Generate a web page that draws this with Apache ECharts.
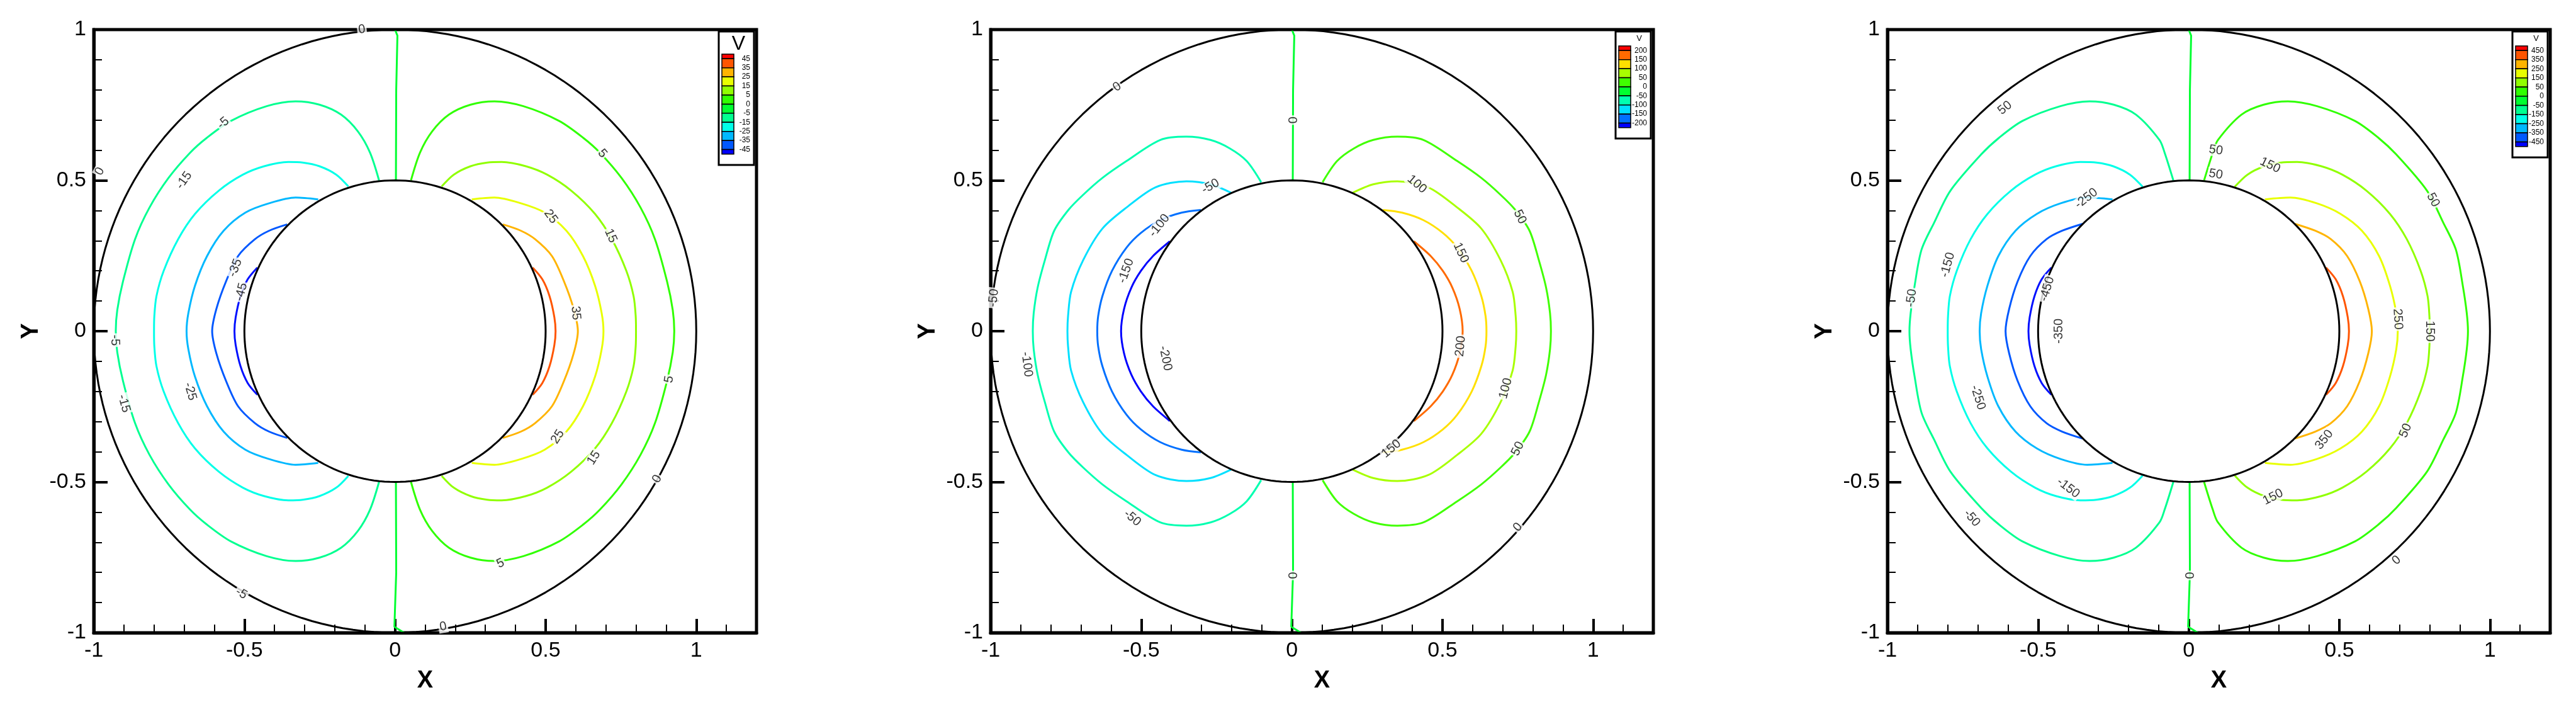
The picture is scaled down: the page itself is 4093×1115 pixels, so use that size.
<!DOCTYPE html>
<html>
<head>
<meta charset="utf-8">
<script src="https://cdn.jsdelivr.net/npm/echarts@6/dist/echarts.min.js"></script>
<style>
  html, body { margin: 0; padding: 0; background: #fff; }
  #chart { width: 4093px; height: 1115px; }
</style>
</head>
<body>
<div id="chart"></div>
<script>
// upper-right quadrant of each positive contour (x, y in data units)
const shape1 = [
  [[0.053, 0.5], [0.083, 0.592], [0.123, 0.662], [0.179, 0.718], [0.251, 0.751], [0.330, 0.762], [0.426, 0.746], [0.545, 0.697],
   [0.625, 0.641], [0.680, 0.592], [0.752, 0.508], [0.815, 0.41], [0.863, 0.305], [0.903, 0.165], [0.922, 0.07], [0.927, 0]],
  [[0.155, 0.48], [0.195, 0.519], [0.251, 0.547], [0.306, 0.559], [0.354, 0.561], [0.434, 0.547], [0.505, 0.519], [0.585, 0.466],
   [0.664, 0.389], [0.720, 0.305], [0.768, 0.2], [0.792, 0.116], [0.799, 0.05], [0.80, 0]],
  [[0.255, 0.437], [0.33, 0.443], [0.418, 0.424], [0.497, 0.393], [0.569, 0.333], [0.624, 0.249], [0.664, 0.151], [0.686, 0.06], [0.692, 0]],
  [[0.358, 0.354], [0.418, 0.333], [0.465, 0.305], [0.521, 0.249], [0.561, 0.165], [0.593, 0.074], [0.607, 0]],
  [[0.457, 0.211], [0.489, 0.172], [0.513, 0.116], [0.529, 0.046], [0.533, 0]]
];
const shape2 = [
  [[0.102, 0.494], [0.15, 0.564], [0.206, 0.606], [0.27, 0.634], [0.35, 0.645], [0.437, 0.634], [0.549, 0.564], [0.629, 0.508],
   [0.693, 0.452], [0.741, 0.403], [0.789, 0.333], [0.82, 0.235], [0.844, 0.144], [0.857, 0.06], [0.86, 0]],
  [[0.202, 0.459], [0.27, 0.487], [0.35, 0.497], [0.453, 0.477], [0.549, 0.41], [0.629, 0.34], [0.693, 0.235], [0.733, 0.13], [0.743, 0.05], [0.745, 0]],
  [[0.302, 0.402], [0.366, 0.393], [0.437, 0.368], [0.501, 0.326], [0.549, 0.277], [0.597, 0.2], [0.629, 0.116], [0.643, 0.05], [0.646, 0]],
  [[0.405, 0.298], [0.461, 0.249], [0.501, 0.2], [0.533, 0.144], [0.557, 0.074], [0.567, 0]]
];
const shape3 = [
  [[0.051, 0.5], [0.080, 0.592], [0.097, 0.634], [0.175, 0.718], [0.249, 0.751], [0.329, 0.762], [0.426, 0.746], [0.552, 0.697],
   [0.630, 0.641], [0.690, 0.585], [0.791, 0.466], [0.845, 0.36], [0.887, 0.27], [0.910, 0.15], [0.923, 0.06], [0.927, 0]],
  [[0.153, 0.479], [0.195, 0.519], [0.251, 0.547], [0.306, 0.559], [0.36, 0.561], [0.440, 0.547], [0.510, 0.519], [0.590, 0.466],
   [0.668, 0.389], [0.724, 0.305], [0.770, 0.2], [0.793, 0.116], [0.799, 0.05], [0.80, 0]],
  [[0.253, 0.437], [0.337, 0.443], [0.425, 0.424], [0.504, 0.389], [0.575, 0.333], [0.632, 0.249], [0.668, 0.151], [0.689, 0.06], [0.694, 0]],
  [[0.352, 0.356], [0.420, 0.333], [0.472, 0.305], [0.526, 0.249], [0.568, 0.165], [0.596, 0.074], [0.608, 0]],
  [[0.456, 0.211], [0.488, 0.172], [0.512, 0.116], [0.528, 0.046], [0.532, 0]]
];

const levels1 = [5, 15, 25, 35, 45];
const levels2 = [50, 100, 150, 200];
const levels3 = [50, 150, 250, 350, 450];

const legend1 = ['45', '35', '25', '15', '5', '0', '-5', '-15', '-25', '-35', '-45'];
const legend2 = ['200', '150', '100', '50', '0', '-50', '-100', '-150', '-200'];
const legend3 = ['450', '350', '250', '150', '50', '0', '-50', '-150', '-250', '-350', '-450'];

// contour labels: x, y, text
const labels1 = [
  [-0.11, 1.0, '0'], [-0.57, 0.69, '-5'], [-0.98, 0.53, '0'], [-0.70, 0.50, '-15'], [-0.53, 0.21, '-35'],
  [-0.51, 0.13, '-45'], [-0.93, -0.03, '-5'], [-0.68, -0.2, '-25'], [-0.90, -0.24, '-15'], [-0.51, -0.87, '-5'],
  [0.688, 0.589, '5'], [0.716, 0.316, '15'], [0.517, 0.38, '25'], [0.60, 0.06, '35'], [0.91, -0.16, '5'],
  [0.54, -0.35, '25'], [0.66, -0.42, '15'], [0.87, -0.49, '0'], [0.35, -0.77, '5'], [0.16, -0.98, '0']
];
const labels2 = [
  [-0.58, 0.81, '0'], [-0.27, 0.48, '-50'], [-0.44, 0.35, '-100'], [-0.55, 0.20, '-150'], [-0.99, 0.11, '-50'],
  [-0.42, -0.09, '-200'], [-0.88, -0.11, '-100'], [-0.53, -0.62, '-50'], [0, 0.70, '0'], [0.415, 0.487, '100'],
  [0.561, 0.26, '150'], [0.757, 0.379, '50'], [0.56, -0.05, '200'], [0.71, -0.19, '100'], [0.33, -0.39, '150'],
  [0.75, -0.39, '50'], [0.75, -0.65, '0'], [0, -0.81, '0']
];
const labels3 = [
  [-0.61, 0.74, '50'], [-0.34, 0.44, '-250'], [-0.80, 0.22, '-150'], [-0.47, 0.14, '-450'], [-0.43, 0.0, '-350'],
  [-0.92, 0.11, '-50'], [-0.70, -0.22, '-250'], [-0.40, -0.52, '-150'], [-0.72, -0.62, '-50'], [0.09, 0.60, '50'],
  [0.27, 0.55, '150'], [0.811, 0.435, '50'], [0.694, 0.04, '250'], [0.80, 0.0, '150'], [0.28, -0.55, '150'],
  [0.45, -0.36, '350'], [0.72, -0.33, '50'], [0.69, -0.76, '0'], [0, -0.81, '0'], [0.09, 0.52, '50']
];

const radii = [1, 0.5];

const posColors = {
  5: ['#30ff00', '#90ff00', '#e8ff00', '#ffb400', '#ff5500'],
  4: ['#40ff00', '#a8ff00', '#ffe000', '#ff6a00']
};
const negColors = {
  5: ['#00ff90', '#00ffe8', '#00b8ff', '#0058ff', '#0010ff'],
  4: ['#00ffb0', '#00e0ff', '#0070ff', '#0000ff']
};
const zeroColor = '#00ff30';

const panels = [
  { left: 149, shape: shape1, levels: levels1, legend: legend1, labels: labels1, bigV: true, boxBottom: 262 },
  { left: 1574, shape: shape2, levels: levels2, legend: legend2, labels: labels2, bigV: false, boxBottom: 220 },
  { left: 2999, shape: shape3, levels: levels3, legend: legend3, labels: labels3, bigV: false, boxBottom: 250 }
];
const gridW = 1053, gridTop = 47, gridH = 958;

const grids = [], xAxes = [], yAxes = [], series = [], graphics = [];

function fullCurve(q, sx) {
  const up = q.map(p => [sx * p[0], p[1]]);
  const down = q.slice(0, -1).reverse().map(p => [sx * p[0], -p[1]]);
  return up.concat(down);
}

panels.forEach((p, i) => {
  grids.push({ left: p.left, top: gridTop, width: gridW, height: gridH, show: true, borderColor: '#000', borderWidth: 5 });
  xAxes.push({
    gridIndex: i, type: 'value', min: -1, max: 1.2, interval: 0.5,
    name: 'X', nameLocation: 'middle', nameGap: 58,
    nameTextStyle: { fontFamily: 'Liberation Sans', fontWeight: 'bold', fontSize: 38, color: '#000' },
    axisLine: { onZero: false, lineStyle: { color: '#000', width: 5 } },
    axisTick: { inside: true, length: 22, lineStyle: { width: 4, color: '#000' } },
    minorTick: { show: true, splitNumber: 5, length: 13, lineStyle: { width: 2, color: '#000' } },
    axisLabel: { fontFamily: 'Liberation Sans', fontSize: 34, color: '#000', margin: 12, showMaxLabel: false },
    splitLine: { show: false }
  });
  yAxes.push({
    gridIndex: i, type: 'value', min: -1, max: 1, interval: 0.5,
    name: 'Y', nameLocation: 'middle', nameGap: 80, nameRotate: 90,
    nameTextStyle: { fontFamily: 'Liberation Sans', fontWeight: 'bold', fontSize: 38, color: '#000' },
    axisLine: { onZero: false, lineStyle: { color: '#000', width: 5 } },
    axisTick: { inside: true, length: 22, lineStyle: { width: 4, color: '#000' } },
    minorTick: { show: true, splitNumber: 5, length: 13, lineStyle: { width: 2, color: '#000' } },
    axisLabel: { fontFamily: 'Liberation Sans', fontSize: 34, color: '#000', margin: 12 },
    splitLine: { show: false }
  });

  // boundary circles
  radii.forEach(r => {
    const pts = [];
    for (let k = 0; k <= 360; k += 2) {
      const a = k * Math.PI / 180;
      pts.push([r * Math.cos(a), r * Math.sin(a)]);
    }
    series.push({ type: 'line', xAxisIndex: i, yAxisIndex: i, data: pts, symbol: 'none', silent: true,
      lineStyle: { color: '#000', width: 3 }, z: 3 });
  });

  // zero contour
  [[[0.003, 0.5], [0.004, 0.8], [0.008, 0.98], [0.0, 1.0]], [[0.003, -0.5], [0.004, -0.8], [-0.002, -0.98], [0.03, -1.0]]].forEach(seg => {
    series.push({ type: 'line', xAxisIndex: i, yAxisIndex: i, data: seg, symbol: 'none', silent: true,
      lineStyle: { color: zeroColor, width: 3 }, z: 2 });
  });

  const n = p.levels.length;
  p.shape.forEach((q, k) => {
    series.push({ type: 'line', xAxisIndex: i, yAxisIndex: i, data: fullCurve(q, 1), symbol: 'none', smooth: 0.3,
      silent: true, lineStyle: { color: posColors[n][k], width: 3 }, z: 2 });
    series.push({ type: 'line', xAxisIndex: i, yAxisIndex: i, data: fullCurve(q, -1), symbol: 'none', smooth: 0.3,
      silent: true, lineStyle: { color: negColors[n][k], width: 3 }, z: 2 });
  });

  // contour labels
  series.push({
    type: 'scatter', xAxisIndex: i, yAxisIndex: i, symbolSize: 0, z: 5, silent: true,
    data: p.labels.map(l => {
      let rot = Math.atan2(l[1], l[0]) * 180 / Math.PI - 90;
      while (rot > 90) rot -= 180;
      while (rot < -90) rot += 180;
      if (l[0] === 0) rot = -90;
      return { value: [l[0], l[1]], label: { show: true, position: 'inside', formatter: l[2], rotate: rot,
        fontFamily: 'Liberation Sans', fontSize: 20, color: '#000', backgroundColor: '#fff', padding: [0, 2] } };
    })
  });

  // colour legend box
  const boxRight = p.left + gridW - 4;
  const boxLeft = boxRight - 56;
  const nb = p.legend.length + 1;
  const blocksTop = p.bigV ? 86 : 73;
  const blocksBottom = p.boxBottom - 10;
  const bh = (blocksBottom - blocksTop) / (nb - 0.5);
  graphics.push({ type: 'rect', shape: { x: boxLeft, y: 50, width: boxRight - boxLeft, height: p.boxBottom - 50 },
    style: { fill: '#fff', stroke: '#000', lineWidth: 3 }, z: 10 });
  graphics.push({ type: 'text', x: boxRight - 14, y: p.bigV ? 54 : 55, z: 11,
    style: { text: 'V', fontFamily: 'Liberation Sans', fontSize: p.bigV ? 32 : 13, align: 'right', fill: '#000' } });
  let y = blocksTop;
  for (let k = 0; k < nb; k++) {
    const h = (k === 0 || k === nb - 1) ? bh * 0.5 : bh;
    const c = k === 0 ? '#ff0000' : (k === nb - 1 ? '#0000ff' : (k <= n ? posColors[n][n - k] : (k === n + 1 ? zeroColor : negColors[n][k - n - 2])));
    graphics.push({ type: 'rect', shape: { x: boxLeft + 5, y: y, width: 19, height: h },
      style: { fill: c, stroke: '#000', lineWidth: 1.5 }, z: 11 });
    y += h;
  }
  p.legend.forEach((t, k) => {
    graphics.push({ type: 'text', x: boxLeft + 50, y: blocksTop + bh * 0.5 + k * bh, z: 11,
      style: { text: t, fontFamily: 'Liberation Sans', fontSize: 12, align: 'right', verticalAlign: 'middle', fill: '#000' } });
  });
});

const chart = echarts.init(document.getElementById('chart'));
chart.setOption({
  animation: false,
  backgroundColor: '#fff',
  grid: grids,
  xAxis: xAxes,
  yAxis: yAxes,
  series: series,
  graphic: graphics
});
</script>
</body>
</html>
